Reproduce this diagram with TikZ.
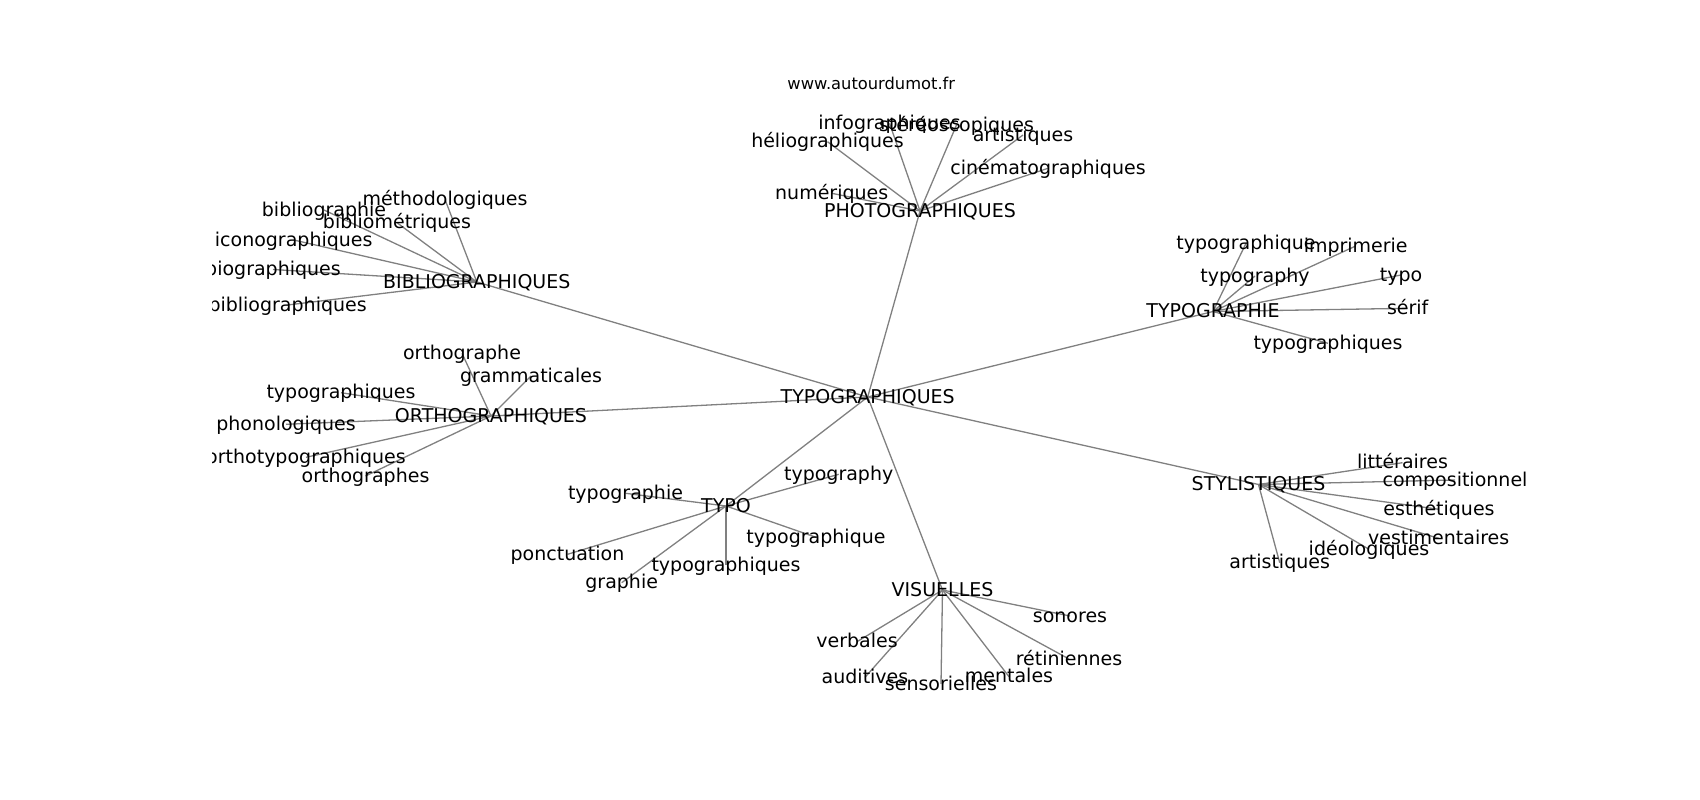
\documentclass[tikz,border=0pt]{standalone}
\usepackage{fontspec}
\setmainfont{DejaVu Sans}
\usetikzlibrary{backgrounds}
\tikzset{
  lbl/.style={inner sep=0pt, outer sep=0pt, text height=1.25em, text depth=0em, font=\fontsize{19}{23}\selectfont, text=black},
  ttl/.style={inner sep=0pt, font=\fontsize{16.3}{20}\selectfont, text=black},
  edge/.style={draw=gray, line width=1.3pt}
}
\begin{document}
\begin{tikzpicture}[x=1pt,y=-1pt]
\useasboundingbox (0,0) rectangle (1700,800);
\node[ttl] (title) at (871.3,83) {www.autourdumot.fr};
\begin{scope}
\clip (212.5,0) rectangle (1530,800);
% hubs
\node[lbl] (T) at (867.7,397) {TYPOGRAPHIQUES};
\node[lbl] (B) at (476.8,282) {BIBLIOGRAPHIQUES};
\node[lbl] (P) at (920,211) {PHOTOGRAPHIQUES};
\node[lbl] (G) at (1213,311.5) {TYPOGRAPHIE};
\node[lbl] (O) at (491,416) {ORTHOGRAPHIQUES};
\node[lbl] (S) at (1258.5,484.5) {STYLISTIQUES};
\node[lbl] (Y) at (726,506) {TYPO};
\node[lbl] (V) at (942.5,590) {VISUELLES};
% bibliographiques
\node[lbl] (b1) at (445,199.5) {méthodologiques};
\node[lbl] (b2) at (324,210) {bibliographie};
\node[lbl] (b3) at (397,222.7) {bibliométriques};
\node[lbl] (b4) at (293.7,240) {iconographiques};
\node[lbl] (b5) at (273,269.5) {biographiques};
\node[lbl] (b6) at (287.6,305) {bibliographiques};
% photographiques
\node[lbl] (p1) at (889.5,123.3) {infographiques};
\node[lbl] (p2) at (956.5,125) {stéréoscopiques};
\node[lbl] (p3) at (1023,135) {artistiques};
\node[lbl] (p4) at (827.5,141.7) {héliographiques};
\node[lbl] (p5) at (1048,168.3) {cinématographiques};
\node[lbl] (p6) at (831.7,193.3) {numériques};
% typographie
\node[lbl] (g1) at (1246,243.3) {typographique};
\node[lbl] (g2) at (1355.7,246) {imprimerie};
\node[lbl] (g3) at (1255,276) {typography};
\node[lbl] (g4) at (1401,275) {typo};
\node[lbl] (g5) at (1407.7,308.3) {sérif};
\node[lbl] (g6) at (1328,343.3) {typographiques};
% orthographiques
\node[lbl] (o1) at (462,353.3) {orthographe};
\node[lbl] (o2) at (531,376) {grammaticales};
\node[lbl] (o3) at (341,392.7) {typographiques};
\node[lbl] (o4) at (286,424.3) {phonologiques};
\node[lbl] (o5) at (306,457.3) {orthotypographiques};
\node[lbl] (o6) at (365.5,476) {orthographes};
% stylistiques
\node[lbl] (s1) at (1402.5,462.7) {littéraires};
\node[lbl] (s2) at (1455,480) {compositionnel};
\node[lbl] (s3) at (1439,509.3) {esthétiques};
\node[lbl] (s4) at (1438.7,538.3) {vestimentaires};
\node[lbl] (s5) at (1369,549.3) {idéologiques};
\node[lbl] (s6) at (1279.7,562.7) {artistiques};
% typo
\node[lbl] (y1) at (838.7,474.3) {typography};
\node[lbl] (y2) at (625.5,493.3) {typographie};
\node[lbl] (y3) at (816,537.3) {typographique};
\node[lbl] (y4) at (567.5,554.3) {ponctuation};
\node[lbl] (y5) at (726,565) {typographiques};
\node[lbl] (y6) at (621.7,582.7) {graphie};
% visuelles
\node[lbl] (v1) at (1070,616) {sonores};
\node[lbl] (v2) at (857,641.7) {verbales};
\node[lbl] (v3) at (1069,659) {rétiniennes};
\node[lbl] (v4) at (865,677.3) {auditives};
\node[lbl] (v5) at (941,684) {sensorielles};
\node[lbl] (v6) at (1009,676.7) {mentales};
\end{scope}
\begin{scope}[on background layer]
\foreach \h in {B,P,G,O,S,Y,V} \draw[edge] (T.center) -- (\h.center);
\foreach \i in {1,...,6} {
  \draw[edge] (B.center) -- (b\i.center);
  \draw[edge] (P.center) -- (p\i.center);
  \draw[edge] (G.center) -- (g\i.center);
  \draw[edge] (O.center) -- (o\i.center);
  \draw[edge] (S.center) -- (s\i.center);
  \draw[edge] (Y.center) -- (y\i.center);
  \draw[edge] (V.center) -- (v\i.center);
}
\end{scope}
\end{tikzpicture}
\end{document}
